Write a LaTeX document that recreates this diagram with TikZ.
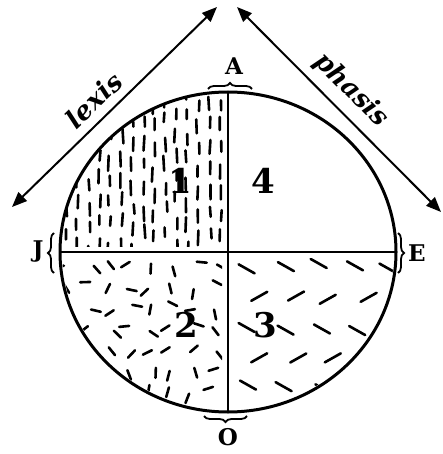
\documentclass[tikz,border=0pt]{standalone}
\usepackage{fontspec}
\setmainfont{DejaVu Serif}
\usetikzlibrary{decorations.pathreplacing,arrows.meta}
\begin{document}
\begin{tikzpicture}[x=1pt,y=-1pt,
  outline/.style={line width=3pt},
  divider/.style={line width=2.2pt},
  dbl/.style={line width=2pt,{Triangle[length=15pt,width=12pt]}-{Triangle[length=15pt,width=12pt]}},
  hatch/.style={line width=2.6pt,line cap=round},
  brc/.style={line width=1.8pt,decorate,decoration={brace,amplitude=6pt}},
  num/.style={font=\fontsize{34}{36}\selectfont\bfseries},
  lbl/.style={font=\fontsize{23}{25}\selectfont\bfseries},
  word/.style={font=\fontsize{26}{28}\selectfont\bfseries\itshape}]
\useasboundingbox (0,0) rectangle (443,454);
\pgfmathsetseed{4711}
% quadrant 1: vertical dashes
\begin{scope}
  \clip (228,252) ellipse [x radius=168, y radius=160];
  \clip (57,92) rectangle (224,246);
  \foreach \x in {66,77,...,224}{
    \pgfmathsetmacro\off{rnd*22}
    \foreach \y in {80,102,...,250}{
      \pgfmathsetmacro\xx{\x+rand*2}
      \pgfmathsetmacro\yy{\y+\off+rand*3}
      \pgfmathsetmacro\ll{9+rnd*6}
      \draw[hatch] (\xx,\yy) -- ++(rand*1,\ll);
    }
  }
\end{scope}
% quadrant 2: random dashes
\begin{scope}
  \clip (228,252) ellipse [x radius=166, y radius=158];
  \clip (57,258) rectangle (222,414);
  \foreach \x in {68,89,...,224}{
    \foreach \y in {264,285,...,414}{
      \pgfmathsetmacro\xx{\x+rand*5}
      \pgfmathsetmacro\yy{\y+rand*5}
      \pgfmathsetmacro\aa{rnd*180}
      \draw[hatch] (\xx,\yy) -- ++(\aa:10);
    }
  }
\end{scope}
% quadrant 3: alternating slanted dashes
\begin{scope}
  \clip (228,252) ellipse [x radius=166, y radius=158];
  \clip (235,258) rectangle (398,414);
  \foreach \y/\s/\o in {266/1/0,298/-1/12,330/1/4,360/-1/16,386/1/2}{
    \foreach \x in {246,282,...,400}{
      \pgfmathsetmacro\xx{\x+\o+rand*4}
      \pgfmathsetmacro\yy{\y+rand*3}
      \draw[hatch] (\xx-8,\yy-4.5*\s) -- (\xx+8,\yy+4.5*\s);
    }
  }
\end{scope}
% circle and dividers
\coordinate (c) at (228,252);
\coordinate (top) at (228,92);
\coordinate (bot) at (228,412);
\coordinate (lft) at (60,252);
\coordinate (rgt) at (396,252);
\draw[outline] (c) ellipse [x radius=168, y radius=160];
\draw[divider] (top) -- (bot);
\draw[divider] (lft) -- (rgt);
% arrows
\coordinate (l1) at (12,207);
\coordinate (l2) at (217,7);
\coordinate (r1) at (237,7);
\coordinate (r2) at (441,212);
\draw[dbl] (l1) -- (l2);
\draw[dbl] (r1) -- (r2);
\node[word,rotate=44] (lexis) at (94,100) {lexis};
\node[word,rotate=-45] (phasis) at (351,90) {phasis};
% braces
\draw[brc] (208,89) -- (252,89);
\draw[brc] (247,416) -- (204,416);
\draw[brc] (54,273) -- (54,233);
\draw[brc] (398,233) -- (398,273);
\node[lbl] (A) at (234,66) {A};
\node[lbl] (J) at (38,252) {J};
\node[lbl] (E) at (417,253) {E};
\node[lbl] (O) at (228,437) {O};
% numbers
\node[num,inner sep=0pt] (n1) at (180,181) {1};
\node[num] (n4) at (263,181) {4};
\node[num] (n2) at (186,325) {2};
\node[num] (n3) at (265,325) {3};
\end{tikzpicture}
\end{document}
